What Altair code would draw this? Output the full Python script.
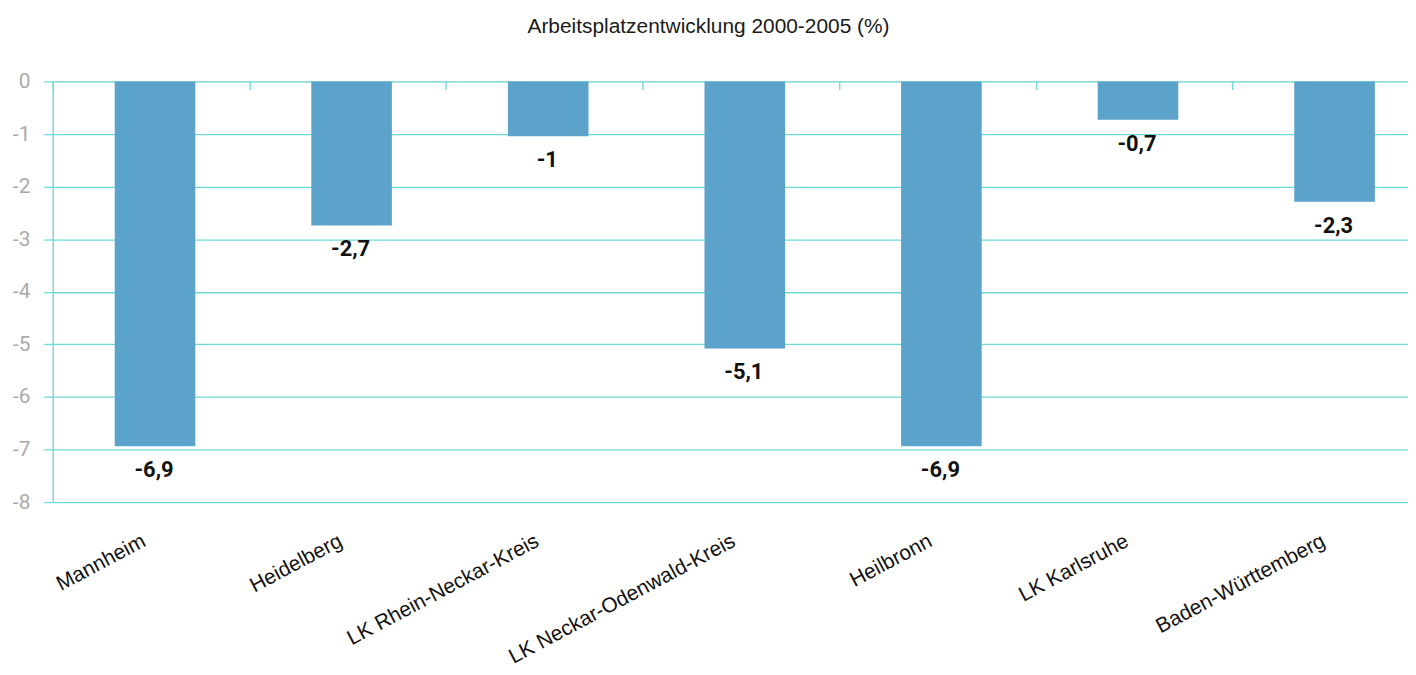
import altair as alt
import pandas as pd

categories = ["Mannheim", "Heidelberg", "LK Rhein-Neckar-Kreis", "LK Neckar-Odenwald-Kreis",
              "Heilbronn", "LK Karlsruhe", "Baden-Württemberg"]
values = [-6.94, -2.74, -1.04, -5.08, -6.94, -0.73, -2.29]
labels = ["-6,9", "-2,7", "-1", "-5,1", "-6,9", "-0,7", "-2,3"]
y_ticks = [0, -1, -2, -3, -4, -5, -6, -7, -8]

df = pd.DataFrame({"cat": categories, "val": values, "lab": labels})

TEAL = "#6cd9d9"

xscale = alt.Scale(domain=categories, range=[0, 1384], paddingInner=0, paddingOuter=0)
yscale = alt.Scale(domain=[-8, 0], nice=False)

yaxis = alt.Axis(values=y_ticks, grid=True, gridColor=TEAL, gridWidth=1.3,
                 domain=True, domainColor=TEAL, domainWidth=1.3,
                 ticks=True, tickSize=9, tickColor=TEAL, tickWidth=1.3,
                 labelFont="Roboto", labelFontSize=21, labelColor="#aaaaaa",
                 labelPadding=14,
                 labelExpr="datum.value == 0 ? '0' : '-' + format(abs(datum.value), 'd')",
                 title=None)

bars = alt.Chart(df).mark_bar(color="#5ba3cb", width={"band": 0.41}, xOffset=4).encode(
    x=alt.X("cat:N", sort=categories, scale=xscale,
            axis=alt.Axis(orient="top", labels=False, domain=False, grid=False,
                          ticks=True, tickSize=8, tickColor=TEAL, tickWidth=1.3,
                          tickBand="extent", offset=-8, title=None)),
    y=alt.Y("val:Q", scale=yscale, axis=yaxis),
)

text = alt.Chart(df).mark_text(font="Roboto", fontWeight="bold", fontSize=22,
                               color="#111111", baseline="middle", dy=24, dx=3).encode(
    x=alt.X("cat:N", sort=categories, scale=xscale,
            axis=alt.Axis(orient="bottom", labelAngle=-28, labelAlign="right",
                          labelBaseline="top", labelFont="Liberation Sans",
                          labelFontSize=21, labelColor="#111111",
                          labelPadding=28, labelOffset=-12, labelLimit=0,
                          labelOverlap=False, labelBound=False,
                          ticks=False, domain=False, grid=False, title=None)),
    y=alt.Y("val:Q", scale=yscale, axis=yaxis),
    text="lab:N",
)

chart = alt.layer(bars, text).resolve_axis(x="independent").properties(
    width=1363, height=423,
    autosize=alt.AutoSizeParams(type="none"),
    padding={"left": 45, "top": 72, "right": 0, "bottom": 164},
    title=alt.Title("Arbeitsplatzentwicklung 2000-2005 (%)", font="Liberation Sans",
                    fontSize=21, fontWeight="normal", color="#1a1a1a",
                    anchor="middle", dx=-22, offset=34),
).configure_view(stroke=None).configure(background="white")

chart.save("out.html", embed_options={"renderer": "svg", "actions": False})
